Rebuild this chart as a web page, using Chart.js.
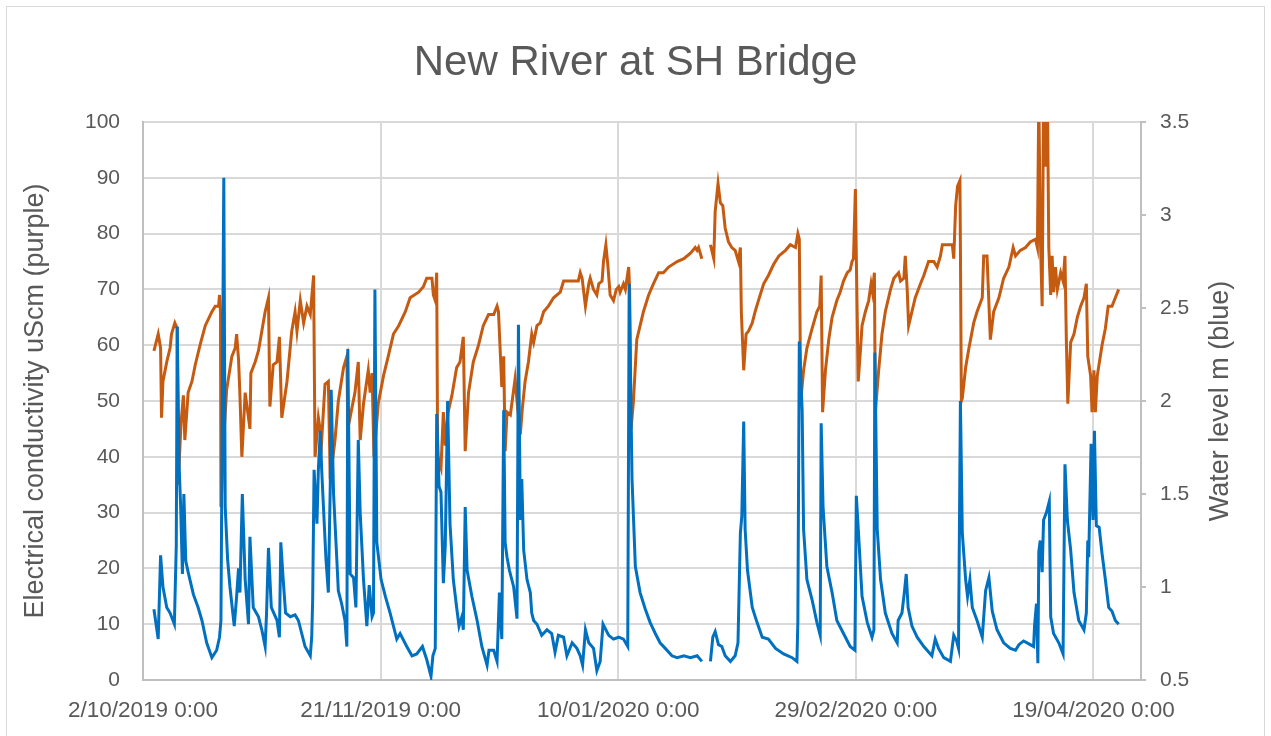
<!DOCTYPE html>
<html>
<head>
<meta charset="utf-8">
<script src="https://cdn.jsdelivr.net/npm/chart.js@4.4.1/dist/chart.umd.min.js"></script>
<style>
  html, body { margin: 0; padding: 0; background: #fff; }
  #wrap { position: relative; width: 1271px; height: 736px; overflow: hidden; }
  #frame { position: absolute; left: 6px; top: 6px; right: 6px; bottom: -4px; border: 1px solid #d9d9d9; }
  canvas { position: absolute; left: 0; top: 0; }
</style>
</head>
<body>
<div id="wrap">
  <div id="frame"></div>
  <canvas id="chart" width="1271" height="736"></canvas>
</div>
<script>
// days since 2/10/2019 0:00
const tickDays = [0, 50, 100, 150, 200];
const tickLabels = ['2/10/2019 0:00', '21/11/2019 0:00', '10/01/2020 0:00', '29/02/2020 0:00', '19/04/2020 0:00'];

// electrical conductivity (left axis), orange line
const condDays = [
  2.3, 3.2, 3.7, 3.9, 4.2, 5.0, 5.7, 6.0, 6.7, 7.2,
  7.4, 8.0, 8.5, 8.8, 9.5, 10.3, 11.0, 12.0, 13.1, 14.5,
  15.2, 15.9, 16.1, 16.3, 16.4, 17.1, 17.6, 18.7, 19.4, 19.7,
  20.1, 20.4, 20.8, 21.5, 22.5, 22.7, 23.6, 24.3, 25.0, 25.7,
  26.4, 26.7, 27.4, 28.2, 28.7, 29.2, 30.3, 31.3, 32.0, 32.4,
  33.1, 33.8, 34.5, 35.2, 35.9, 36.2, 36.9, 37.6, 38.3, 39.0,
  39.4, 40.4, 41.1, 42.2, 42.9, 43.1, 43.9, 44.6, 45.3, 45.7,
  46.4, 47.4, 47.8, 48.2, 48.6, 49.5, 50.6, 51.6, 52.7, 53.8,
  55.2, 56.2, 58.0, 59.0, 59.7, 60.8, 61.1, 61.5, 61.8, 62.0,
  62.7, 63.2, 63.6, 64.2, 65.0, 66.0, 66.7, 67.4, 67.8, 68.5,
  69.5, 70.6, 71.6, 72.7, 73.8, 74.5, 74.8, 75.5, 75.9, 76.2,
  76.6, 77.3, 78.3, 78.8, 79.4, 79.8, 80.4, 81.1, 81.8, 82.2,
  82.9, 83.6, 84.3, 85.3, 86.4, 87.8, 88.5, 89.9, 91.6, 92.0,
  92.4, 93.1, 93.8, 94.1, 94.8, 95.5, 95.9, 96.6, 96.9, 97.4,
  97.8, 98.3, 99.0, 99.6, 100.1, 100.4, 101.1, 101.5, 102.2, 102.4,
  102.7, 103.2, 103.9, 104.6, 105.3, 106.4, 107.4, 108.5, 109.5, 110.6,
  112.4, 113.8, 115.2, 116.2, 116.6, 116.9, 117.6, 118.5, 119.4, 120.1,
  120.4, 121.0, 121.5, 122.0, 122.5, 123.2, 123.9, 124.6, 125.3, 125.7,
  125.9, 126.4, 126.9, 127.4, 128.2, 128.8, 129.5, 130.6, 131.6, 132.7,
  133.8, 135.2, 136.2, 137.3, 137.8, 138.1, 138.4, 139.0, 139.7, 140.8,
  141.8, 142.4, 142.7, 143.0, 143.6, 144.3, 145.0, 146.0, 146.7, 147.4,
  148.2, 148.8, 149.2, 149.5, 149.9, 150.1, 150.5, 151.0, 151.3, 152.0,
  152.7, 153.2, 153.5, 153.9, 154.1, 154.8, 155.5, 156.2, 157.3, 158.0,
  159.0, 159.4, 160.1, 160.4, 160.8, 161.1, 161.8, 162.5, 163.6, 164.3,
  165.3, 166.4, 167.1, 167.8, 168.2, 169.2, 170.3, 170.6, 171.0, 171.4,
  171.9, 172.0, 172.2, 172.4, 173.1, 173.8, 174.8, 175.5, 176.6, 176.9,
  177.6, 178.3, 179.0, 180.1, 181.1, 182.2, 183.1, 183.6, 184.6, 185.7,
  186.7, 187.8, 188.2, 188.5, 188.8, 189.2, 189.5, 189.9, 190.3, 190.6,
  191.0, 191.3, 191.6, 192.0, 192.4, 193.1, 193.6, 194.0, 194.3, 194.6,
  195.2, 195.9, 196.6, 197.3, 198.0, 198.5, 198.8, 199.4, 199.7, 200.1,
  200.4, 200.8, 201.8, 202.5, 203.1, 203.9, 204.6, 205.3
];
const condValues = [
  59, 62, 59.5, 47, 53.5, 57, 59.5, 62, 64, 63,
  35, 46, 51, 43, 51.5, 53.5, 56.5, 60, 63.5, 66,
  67, 67, 69, 66, 31, 45, 52, 58, 59.5, 62,
  57.5, 51, 40, 51.5, 45, 55, 57, 59, 62.5, 66,
  68.5, 49, 56.5, 57, 61.5, 47, 53.5, 62.5, 66, 62.5,
  68, 64, 67, 65.5, 72.5, 40, 47, 43, 53, 53.5,
  36, 43, 50, 56, 58, 45, 48.5, 51.5, 57, 43,
  49.5, 55.5, 51.5, 55, 40, 49.5, 54.5, 58, 62, 63.5,
  66, 68.5, 69.5, 70.5, 72, 72, 69, 68, 73, 40,
  38, 48, 42, 48, 51, 56, 57, 61.5, 41, 51.5,
  57, 60, 63.5, 65.5, 65.5, 67, 66, 52.5, 58, 41,
  48, 47.5, 54, 49, 44, 48.5, 53.5, 57, 62, 60.5,
  63.5, 64, 66, 67, 68.5, 69.5, 71.5, 71.5, 71.5, 73,
  72, 67, 71, 72, 70, 69, 71, 71.5, 75, 78,
  74.5, 69, 68, 70, 70.5, 69.5, 71, 70, 74, 70,
  45, 50, 61, 63.5, 66, 69, 71, 73, 73, 74,
  75, 75.5, 76.5, 77.5, 77, 77.5, 75.5, null, 78, 75.5,
  84, 89, 85.5, 85, 81, 78.5, 77.5, 77, 75, 77.5,
  66, 55.5, 62, 62.5, 64, 66, 68, 71, 72.5, 74.5,
  76, 77, 78, 77.5, 80, 79, 50, 55.5, 59.5, 63,
  66, 67, 72.5, 48, 55.5, 61, 65, 68, 69.5, 71.5,
  73, 73.5, 75, 75.5, 88, 75.5, 53.5, 59.5, 63.5, 66,
  68, 71, 69.5, 73, 48, 55.5, 62, 66, 70, 72,
  73, 71.5, 72, 76, 70, 63.5, 66, 68.5, 71, 72.5,
  75, 75, 74, 76, 78, 78, 78, 75.5, 85, 88.5,
  89.5, 77.5, 50, 50.5, 56, 59.5, 64, 66, 68.5, 76,
  76, 61, 66, 68.5, 72, 74, 77.5, 76, 77, 77.5,
  78.5, 79, 77.5, 105, 80, 67, 105, 92, 105, 77.5,
  69, 76, 69.5, 74, 70, 73, 71.5, 76, 60.5, 49.5,
  60.5, 62, 65, 67, 68.5, 71, 58, 54.5, 48, 55.5,
  48, 54.5, 60, 63, 67, 67, 68.5, 70
];

// water level m (right axis), blue line
const levelDays = [
  2.3, 3.2, 3.7, 4.2, 5.0, 5.7, 6.6, 7.0, 7.2, 7.6,
  7.9, 8.3, 8.6, 9.0, 9.5, 10.6, 11.6, 12.4, 13.4, 14.5,
  15.5, 16.1, 16.4, 17.0, 17.3, 17.8, 18.3, 19.2, 19.7, 20.1,
  20.4, 20.9, 21.5, 22.2, 22.5, 23.2, 24.3, 25.0, 25.7, 26.0,
  26.4, 27.0, 28.2, 28.7, 29.0, 29.5, 30.0, 31.0, 32.0, 32.7,
  33.4, 34.1, 35.2, 35.5, 35.7, 36.0, 36.6, 36.9, 37.3, 37.6,
  38.1, 38.5, 39.0, 39.4, 39.6, 40.1, 40.8, 41.1, 41.8, 42.5,
  42.9, 43.1, 43.6, 44.3, 44.8, 45.3, 45.7, 46.4, 47.1, 47.6,
  48.2, 48.5, 48.8, 49.2, 50.1, 51.0, 52.0, 53.1, 53.4, 54.1,
  55.5, 56.6, 57.6, 58.8, 59.7, 60.6, 61.0, 61.5, 61.8, 62.3,
  62.7, 63.2, 63.6, 64.1, 64.6, 65.3, 66.0, 66.5, 67.1, 67.4,
  67.8, 68.2, 69.2, 70.3, 71.3, 72.4, 72.8, 73.8, 74.5, 75.0,
  75.5, 75.9, 76.2, 76.6, 77.1, 78.0, 78.7, 79.0, 79.4, 79.7,
  80.1, 80.8, 81.5, 81.8, 82.2, 82.9, 83.9, 85.0, 86.0, 86.7,
  87.4, 88.5, 89.2, 90.3, 91.3, 92.0, 92.5, 93.1, 93.8, 94.8,
  95.5, 96.2, 96.8, 98.0, 99.0, 100.1, 101.1, 102.0, 102.3, 102.9,
  103.6, 104.6, 105.7, 106.7, 107.8, 108.8, 109.9, 111.3, 112.4, 113.8,
  115.2, 116.6, 117.6, 118.5, 119.4, 119.9, 120.4, 121.1, 121.8, 122.5,
  123.6, 124.6, 125.2, 125.7, 126.0, 126.4, 126.7, 127.2, 128.2, 129.2,
  130.3, 131.6, 133.1, 134.8, 136.6, 137.6, 137.8, 138.1, 138.7, 139.0,
  139.7, 140.8, 141.8, 142.5, 142.7, 143.1, 143.9, 145.0, 146.0, 147.4,
  148.8, 149.8, 150.1, 150.6, 151.3, 152.4, 153.4, 153.8, 154.0, 154.5,
  155.2, 156.2, 157.6, 158.7, 158.9, 159.7, 160.2, 160.6, 161.0, 161.8,
  162.9, 164.3, 166.0, 166.7, 167.4, 168.5, 169.9, 170.6, 171.2, 171.6,
  172.0, 172.4, 173.1, 173.5, 174.0, 174.5, 175.5, 176.6, 177.3, 178.0,
  178.7, 179.7, 181.1, 182.5, 183.6, 184.3, 185.3, 186.7, 187.4, 187.6,
  188.0, 188.3, 188.5, 188.8, 189.2, 189.5, 190.1, 190.7, 191.0, 191.6,
  192.7, 193.6, 194.0, 194.5, 195.2, 195.9, 196.9, 198.0, 198.5, 198.8,
  199.0, 199.5, 199.9, 200.2, 200.6, 201.2, 201.8, 202.5, 203.2, 203.9,
  204.6, 205.3
];
const levelValues = [
  0.88, 0.72, 1.17, 1.0, 0.89, 0.86, 0.8, 1.22, 2.4, 1.65,
  1.45, 1.07, 1.5, 1.14, 1.08, 0.96, 0.89, 0.82, 0.7, 0.62,
  0.66, 0.73, 0.82, 3.2, 1.43, 1.15, 1.0, 0.79, 0.95, 1.1,
  0.97, 1.5, 1.04, 0.8, 1.27, 0.89, 0.84, 0.77, 0.68, 0.86,
  1.21, 0.89, 0.82, 0.73, 1.24, 1.04, 0.86, 0.84, 0.85, 0.82,
  0.75, 0.68, 0.63, 0.73, 0.93, 1.63, 1.34, 1.63, 1.84, 1.63,
  1.36, 1.15, 0.97, 1.54, 2.06, 1.5, 1.14, 0.98, 0.91, 0.82,
  0.68, 2.28, 1.07, 1.05, 0.89, 1.79, 1.4, 1.04, 0.79, 1.01,
  0.84, 0.86, 2.6, 1.24, 1.04, 0.95, 0.86, 0.75, 0.72, 0.75,
  0.68, 0.63, 0.64, 0.68, 0.61, 0.52, 0.63, 0.67, 1.93, 1.54,
  1.51, 1.02, 1.22, 2.0, 1.34, 1.04, 0.89, 0.79, 0.84, 0.77,
  1.43, 1.09, 0.95, 0.82, 0.68, 0.58, 0.66, 0.66, 0.6, 0.97,
  0.72, 1.95, 1.24, 1.16, 1.09, 1.0, 0.83, 2.41, 1.36, 1.58,
  1.2, 1.04, 0.97, 0.86, 0.82, 0.8, 0.74, 0.77, 0.75, 0.65,
  0.74, 0.73, 0.63, 0.7, 0.67, 0.63, 0.58, 0.77, 0.7, 0.67,
  0.55, 0.6, 0.8, 0.74, 0.72, 0.73, 0.72, 0.68, 2.63, 1.58,
  1.11, 0.97, 0.88, 0.81, 0.75, 0.7, 0.67, 0.63, 0.62, 0.63,
  0.62, 0.63, 0.6, null, 0.6, 0.73, 0.76, 0.69, 0.68, 0.63,
  0.6, 0.63, 0.7, 1.29, 1.38, 1.89, 1.31, 1.09, 0.89, 0.81,
  0.73, 0.72, 0.67, 0.64, 0.62, 0.6, 0.82, 2.32, 1.95, 1.31,
  1.04, 0.93, 0.81, 0.74, 1.88, 1.43, 1.11, 0.97, 0.82, 0.75,
  0.68, 0.66, 1.49, 1.27, 0.95, 0.81, 0.73, 0.77, 2.26, 1.31,
  1.04, 0.86, 0.75, 0.7, 0.82, 0.86, 0.97, 1.07, 0.89, 0.79,
  0.73, 0.68, 0.63, 0.72, 0.67, 0.62, 0.6, 0.74, 0.71, 0.67,
  2.0, 1.29, 1.04, 0.95, 1.04, 0.89, 0.82, 0.73, 0.98, 1.05,
  0.87, 0.77, 0.7, 0.67, 0.66, 0.69, 0.71, 0.69, 0.68, 0.79,
  0.91, 0.59, 1.19, 1.25, 1.08, 1.36, 1.4, 1.46, 0.84, 0.75,
  0.7, 0.64, 1.66, 1.36, 1.2, 0.97, 0.82, 0.77, 0.86, 1.25,
  1.16, 1.77, 1.36, 1.84, 1.33, 1.32, 1.18, 1.04, 0.89, 0.87,
  0.82, 0.8
];

const FONT = "'Liberation Sans', Arial, sans-serif";
const TEXT = '#595959';
Chart.defaults.font.family = FONT;
Chart.defaults.color = TEXT;

function points(days, values) {
  return days.map((d, i) => ({ x: d, y: values[i] }));
}

// secondary axis title, rotated the same way as the primary one
const levelTitle = {
  id: 'levelTitle',
  afterDraw(chart) {
    const { ctx, chartArea } = chart;
    const axis = chart.scales.yLevel;
    ctx.save();
    ctx.translate(axis.left + 80, (chartArea.top + chartArea.bottom) / 2);
    ctx.rotate(-Math.PI / 2);
    ctx.font = '27px ' + FONT;
    ctx.fillStyle = TEXT;
    ctx.textAlign = 'center';
    ctx.textBaseline = 'middle';
    ctx.fillText('Water level m (blue)', 0, 0);
    ctx.restore();
  }
};

new Chart(document.getElementById('chart'), {
  type: 'line',
  data: {
    datasets: [
      {
        label: 'Water level m (blue)',
        data: points(levelDays, levelValues),
        yAxisID: 'yLevel',
        borderColor: '#0070C0',
        borderWidth: 3,
        pointRadius: 0,
        tension: 0,
        spanGaps: false,
        order: 0
      },
      {
        label: 'Electrical conductivity uScm (purple)',
        data: points(condDays, condValues),
        yAxisID: 'yCond',
        borderColor: '#C55A11',
        borderWidth: 3,
        pointRadius: 0,
        tension: 0,
        spanGaps: false,
        order: 1
      }
    ]
  },
  plugins: [levelTitle],
  options: {
    responsive: false,
    animation: false,
    events: [],
    layout: { padding: { left: 10, right: 10, top: 0, bottom: 0 } },
    plugins: {
      legend: { display: false },
      tooltip: { enabled: false },
      title: {
        display: true,
        text: 'New River at SH Bridge',
        color: TEXT,
        font: { size: 42, weight: 'normal' },
        padding: { top: 38, bottom: 33.6 }
      }
    },
    scales: {
      x: {
        type: 'linear',
        min: 0,
        max: 210,
        afterBuildTicks: axis => { axis.ticks = tickDays.map(v => ({ value: v })); },
        afterFit: scale => { scale.height = 56; },
        ticks: {
          autoSkip: false,
          maxRotation: 0,
          padding: 17,
          font: { size: 22.5 },
          callback: (value, index) => tickLabels[index]
        },
        grid: { color: '#d9d9d9', lineWidth: 2, drawTicks: false },
        border: { color: '#bfbfbf', width: 2 }
      },
      yCond: {
        position: 'left',
        min: 0,
        max: 100,
        afterFit: scale => { scale.width = 133; },
        ticks: { stepSize: 10, padding: 23, font: { size: 21 } },
        grid: { color: '#d9d9d9', lineWidth: 2, drawTicks: false },
        border: { color: '#bfbfbf', width: 2 },
        title: {
          display: true,
          text: 'Electrical conductivity uScm (purple)',
          color: TEXT,
          font: { size: 27 },
          padding: { top: 9.5, bottom: 0 }
        }
      },
      yLevel: {
        position: 'right',
        min: 0.5,
        max: 3.5,
        afterFit: scale => { scale.width = 120; },
        ticks: { stepSize: 0.5, padding: 14, font: { size: 21 }, callback: v => String(v) },
        grid: { drawOnChartArea: false, color: '#bfbfbf', lineWidth: 2, tickLength: 5 },
        border: { color: '#bfbfbf', width: 2 }
      }
    }
  }
});
</script>
</body>
</html>
